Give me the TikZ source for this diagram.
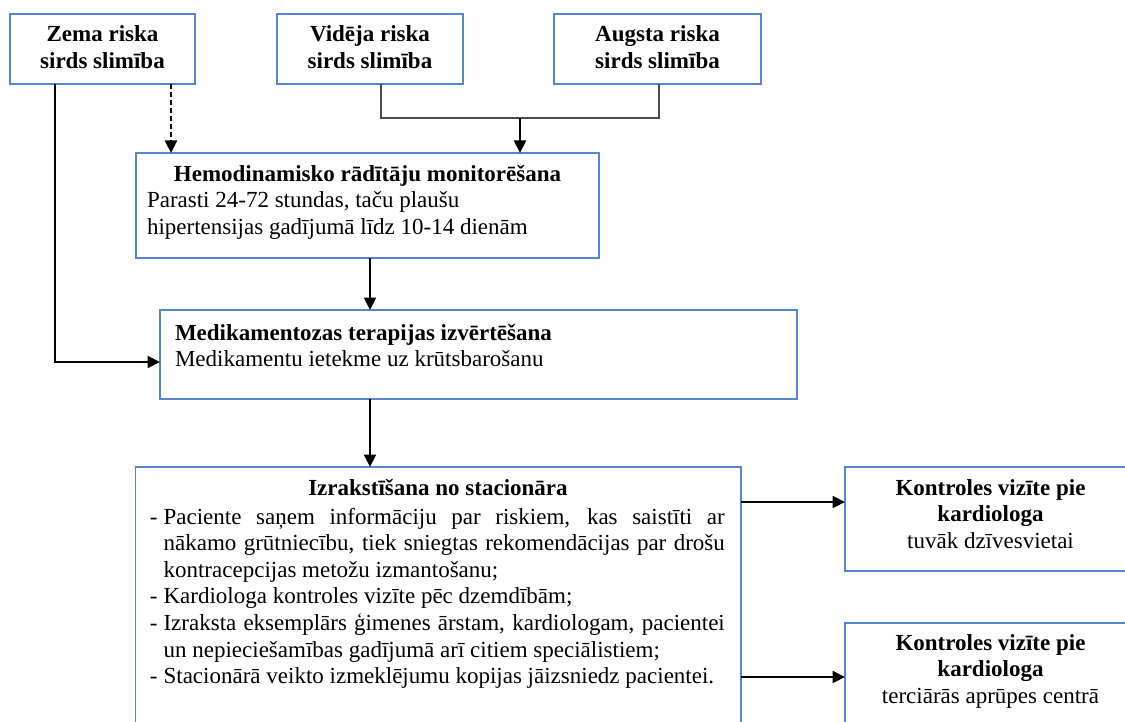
\documentclass[tikz,border=0pt]{standalone}
\usepackage{fontspec}
\setmainfont{Liberation Serif}
\usetikzlibrary{arrows.meta,calc}
\definecolor{boxblue}{RGB}{86,132,214}
\newcommand\izitem{\par\hangindent=13.8pt\hangafter=1\noindent\makebox[13.8pt][l]{-}}
\begin{document}
\begin{tikzpicture}[x=1pt,y=-1pt,
  box/.style={draw=boxblue,line width=1.3pt,anchor=north west,inner sep=0pt,outer sep=0pt},
  conn/.style={line width=2.2pt,draw=black,-{Triangle[length=12.5pt,width=12pt]}},
  feed/.style={line width=1.6pt,draw=black!70},
  txt/.style={inner sep=0pt,outer sep=0pt,anchor=base,font=\fontsize{23}{26.6}\selectfont},
  ttl/.style={txt,font=\fontsize{23}{27.3}\selectfont\bfseries},
]
\useasboundingbox (0,0) rectangle (1125,722);
\clip (0,0) rectangle (1125,722);
\fill[white] (0,0) rectangle (1125,722);

% boxes
\node[box,minimum width=185pt,minimum height=70pt] (zema) at (10,14) {};
\node[box,minimum width=186pt,minimum height=70pt] (vid) at (277,14) {};
\node[box,minimum width=207pt,minimum height=70pt] (aug) at (554,14) {};
\node[box,minimum width=463pt,minimum height=105pt] (hemo) at (136,153) {};
\node[box,minimum width=637pt,minimum height=89pt] (medik) at (160,310) {};
\node[box,minimum width=605.5pt,minimum height=320pt] (izrak) at (135.5,467) {};
\node[box,minimum width=290pt,minimum height=104pt] (k1) at (845,467) {};
\node[box,minimum width=290pt,minimum height=140pt] (k2) at (845,623) {};

% texts
\node[ttl] (zemaT) at (102.5,41.7) {\parbox[t]{180pt}{\centering Zema riska\\sirds slimība}};
\node[ttl] (vidT) at (370,41.7) {\parbox[t]{180pt}{\centering Vidēja riska\\sirds slimība}};
\node[ttl] (augT) at (657.5,41.7) {\parbox[t]{200pt}{\centering Augsta riska\\sirds slimība}};

\node[txt] (hemoT) at (367.5,181.7) {\bfseries Hemodinamisko rādītāju monitorēšana};
\node[txt,anchor=base west] (hemoB) at (147,208) {\parbox[t]{440pt}{Parasti 24-72 stundas, taču plaušu\\hipertensijas gadījumā līdz 10-14 dienām}};

\node[txt,anchor=base west] (medikT) at (175,340) {\parbox[t]{600pt}{\bfseries Medikamentozas terapijas izvērtēšana\\\mdseries Medikamentu ietekme uz krūtsbarošanu}};

\node[txt] (izrakT) at (438,495.7) {\bfseries Izrakstīšana no stacionāra};
\node[txt,anchor=base west] (izrakB) at (149.8,524) {\parbox[t]{575pt}{\tolerance=10000\hyphenpenalty=10000\parindent=0pt
\izitem Paciente saņem informāciju par riskiem, kas saistīti ar\linebreak nākamo grūtniecību, tiek sniegtas rekomendācijas par drošu\linebreak kontracepcijas metožu izmantošanu;
\izitem Kardiologa kontroles vizīte pēc dzemdībām;
\izitem Izraksta eksemplārs ģimenes ārstam, kardiologam, pacientei\linebreak un nepieciešamības gadījumā arī citiem speciālistiem;
\izitem Stacionārā veikto izmeklējumu kopijas jāizsniedz pacientei.}};

\node[txt] (k1T) at (990.5,495) {\parbox[t]{270pt}{\centering\bfseries Kontroles vizīte pie\\kardiologa\\\mdseries tuvāk dzīvesvietai}};
\node[txt] (k2T) at (990.5,650) {\parbox[t]{270pt}{\centering\bfseries Kontroles vizīte pie\\kardiologa\\\mdseries terciārās aprūpes centrā}};

% connectors
\draw[conn] ($(zema.south west)+(45,0)$) |- ($(medik.west)+(0,7.5)$);
\draw[conn,dash pattern=on 5pt off 3pt] ($(zema.south west)+(161,0)$) -- ($(hemo.north west)+(35,0)$);
\coordinate (join) at (520,118);
\draw[feed] ($(vid.south)+(11,0)$) |- (join) -| ($(aug.south)+(1.5,0)$);
\draw[conn] (join) -- (join |- hemo.north);
\draw[conn] ([xshift=2.5pt]hemo.south) -- ([xshift=2.5pt]hemo.south |- medik.north);
\draw[conn] ([xshift=-108.5pt]medik.south) -- ([xshift=-108.5pt]medik.south |- izrak.north);
\draw[conn] ([yshift=-35pt]izrak.north east) -- ([yshift=-35pt]izrak.north east -| k1.west);
\draw[conn] ([yshift=-210pt]izrak.north east) -- ([yshift=-210pt]izrak.north east -| k2.west);
\end{tikzpicture}
\end{document}
